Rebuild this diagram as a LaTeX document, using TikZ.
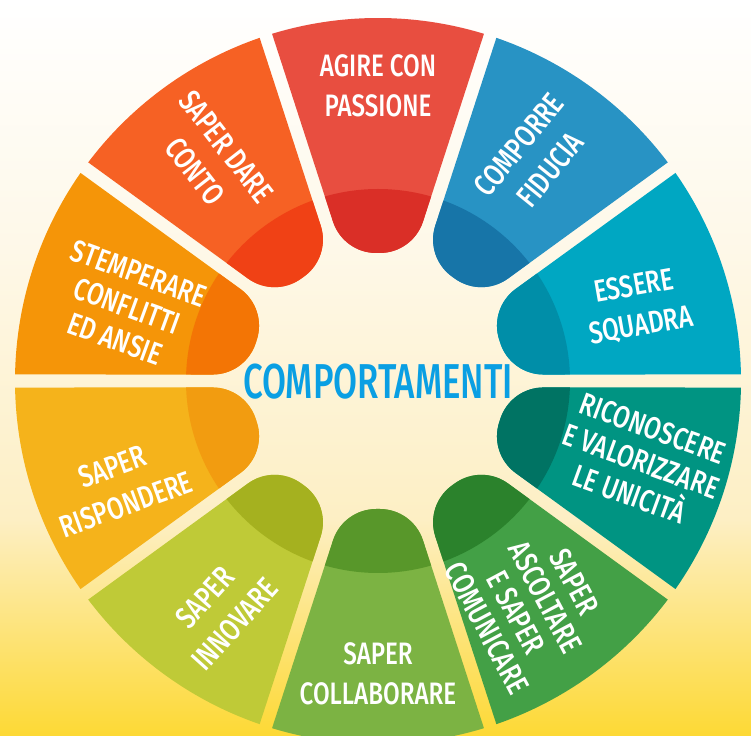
\documentclass[tikz,border=0pt]{standalone}
\usepackage{fontspec}
\setmainfont{Fira Sans}[FakeStretch=0.78,UprightFont={* Medium}]
\newfontfamily\centerfont{Fira Sans}[FakeStretch=0.71,UprightFont={* Medium}]
\definecolor{cA}{HTML}{E84E40}\definecolor{dA}{HTML}{DA2F27}
\definecolor{cB}{HTML}{2893C4}\definecolor{dB}{HTML}{1775A8}
\definecolor{cC}{HTML}{00A7C2}\definecolor{dC}{HTML}{008EA8}
\definecolor{cD}{HTML}{009482}\definecolor{dD}{HTML}{007363}
\definecolor{cE}{HTML}{43A046}\definecolor{dE}{HTML}{2B822C}
\definecolor{cF}{HTML}{7CB343}\definecolor{dF}{HTML}{58972A}
\definecolor{cG}{HTML}{BFCA37}\definecolor{dG}{HTML}{A5B11F}
\definecolor{cH}{HTML}{F5B31B}\definecolor{dH}{HTML}{F29C10}
\definecolor{cI}{HTML}{F59508}\definecolor{dI}{HTML}{F37505}
\definecolor{cJ}{HTML}{F66124}\definecolor{dJ}{HTML}{F04115}
\definecolor{bgA}{HTML}{FFFFFF}\definecolor{bgB}{HTML}{FEF8E8}
\definecolor{bgC}{HTML}{FDEFC4}\definecolor{bgD}{HTML}{FDD935}
\definecolor{ctext}{HTML}{0A9FE3}
\newcommand\wheelseg[3]{%
  \begin{scope}[shift={(378,354)},rotate=#1]
    \fill[#2] (128,-1.8) arc[start angle=180,end angle=252,radius=45.42]
      -- (-16.97:363) arc[start angle=-16.97,end angle=16.97,radius=363]
      -- (159.38,45.0) arc[start angle=108,end angle=180,radius=45.42] -- cycle;
    \fill[#3] (128,-1.8) arc[start angle=180,end angle=252,radius=45.42]
      -- (-16.06:192) arc[start angle=-16.06,end angle=16.06,radius=192]
      -- (159.38,45.0) arc[start angle=108,end angle=180,radius=45.42] -- cycle;
  \end{scope}}
\tikzset{lbl/.style={text=white,align=center,inner sep=0pt,
  font=\fontsize{31pt}{40pt}\selectfont},
  lbltight/.style={lbl,font=\fontsize{31pt}{35pt}\selectfont}}
\begin{document}
\begin{tikzpicture}[x=1pt,y=1pt]
\useasboundingbox (0,0) rectangle (751,735);
\shade[top color=bgA,bottom color=bgB] (0,485) rectangle (751,735);
\shade[top color=bgB,bottom color=bgC] (0,215) rectangle (751,485.5);
\shade[top color=bgC,bottom color=bgD] (0,0) rectangle (751,215.5);
\wheelseg{90}{cA}{dA}
\wheelseg{54}{cB}{dB}
\wheelseg{18}{cC}{dC}
\wheelseg{-18}{cD}{dD}
\wheelseg{-54}{cE}{dE}
\wheelseg{-90}{cF}{dF}
\wheelseg{-126}{cG}{dG}
\wheelseg{-162}{cH}{dH}
\wheelseg{162}{cI}{dI}
\wheelseg{126}{cJ}{dJ}
\begin{scope}[shift={(378,354)}]
\node[lbl] (l1) at (90:295) {AGIRE CON\\PASSIONE};
\node[lbl,rotate=51] (l2) at (55:273) {COMPORRE\\FIDUCIA};
\node[lbl,rotate=10] (l3) at (16:270) {ESSERE\\SQUADRA};
\node[lbltight,rotate=-20] (l4) at (-17:275) {RICONOSCERE\\E VALORIZZARE\\LE UNICITÀ};
\node[lbltight,rotate=-62,font=\fontsize{31pt}{33pt}\selectfont] (l5) at (-55.7:271) {SAPER\\ASCOLTARE\\E SAPER\\COMUNICARE};
\node[lbl] (l6) at (270:293) {SAPER\\COLLABORARE};
\node[lbl,rotate=48] (l7) at (235.5:279) {SAPER\\INNOVARE};
\node[lbl,rotate=20] (l8) at (202:279) {SAPER\\RISPONDERE};
\node[lbltight,rotate=-20] (l9) at (163.4:262) {STEMPERARE\\CONFLITTI\\ED ANSIE};
\node[lbl,rotate=-52] (l10) at (127:278) {SAPER DARE\\CONTO};
\node[text=ctext,inner sep=0pt,font=\centerfont\fontsize{49pt}{49pt}\selectfont] (c) at (0,-1) {COMPORTAMENTI};
\end{scope}
\end{tikzpicture}
\end{document}
